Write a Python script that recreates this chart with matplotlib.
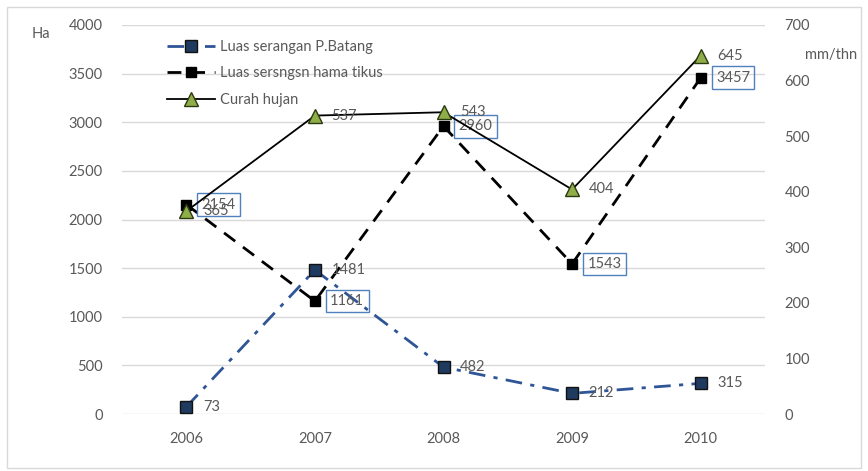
import matplotlib.pyplot as plt
from matplotlib.patches import Rectangle

years = ["2006", "2007", "2008", "2009", "2010"]
batang = [73, 1481, 482, 212, 315]
tikus = [2154, 1161, 2960, 1543, 3457]
hujan = [365, 537, 543, 404, 645]

plt.rcParams['font.family'] = ['Lato', 'DejaVu Sans']
text_col = '#595959'
fs = 10.5

fig = plt.figure(figsize=(8.68, 4.71), dpi=100)
W, H = 868, 471
ax = fig.add_axes([122 / W, 1 - 414 / H, (765 - 122) / W, (414 - 25) / H])
ax2 = ax.twinx()

x = list(range(len(years)))

ax.set_xlim(-0.5, 4.5)
ax.set_ylim(0, 4000)
ax2.set_ylim(0, 700)
ax.set_yticks(range(0, 4001, 500))
ax2.set_yticks(range(0, 701, 100))
ax.set_xticks(x)
ax.set_xticklabels(years)
ax.grid(axis='y', color='#D9D9D9', lw=1)
ax.set_axisbelow(True)
for a in (ax, ax2):
    for s in a.spines.values():
        s.set_visible(False)
    a.tick_params(length=0, labelsize=fs, colors=text_col)
ax.tick_params(axis='y', pad=14)
ax2.tick_params(axis='y', pad=14)
ax.tick_params(axis='x', pad=13)

l1, = ax.plot(x, batang, color='#2F5597', lw=2, dashes=[6, 3, 1.5, 3],
              marker='s', ms=8.5, mfc='#1F3A5F', mec='#111111', zorder=3,
              label='Luas serangan P.Batang')
l2, = ax.plot(x, tikus, color='black', lw=2, dashes=[5, 3.5],
              marker='s', ms=7, mfc='black', mec='black', zorder=3,
              label='Luas sersngsn hama tikus')
ax2.set_zorder(ax.get_zorder() + 1)
ax2.patch.set_visible(False)
l3, = ax2.plot(x, hujan, color='black', lw=1.3, marker='^', ms=10,
               mfc='#8FAE4A', mec='#2B3A10', mew=1, zorder=4,
               label='Curah hujan')

for xi, v in zip(x, batang):
    ax.annotate(str(v), (xi, v), xytext=(12, 0), textcoords='offset points',
                va='center', ha='left', fontsize=fs, color=text_col, zorder=5)
for xi, v in zip(x, tikus):
    ax.annotate(str(v), (xi, v), xytext=(11, 0), textcoords='offset points',
                va='center', ha='left', fontsize=fs, color=text_col, zorder=5,
                bbox=dict(boxstyle='square,pad=0.3', fc='none', ec='#4F81BD', lw=1))
for xi, v in zip(x, hujan):
    ax2.annotate(str(v), (xi, v), xytext=(12, 0), textcoords='offset points',
                 va='center', ha='left', fontsize=fs, color=text_col, zorder=5)

leg = ax.legend(handles=[l1, l2, l3], loc='upper left', bbox_to_anchor=(0.05, 0.995),
                frameon=False, fontsize=fs, handlelength=3.3, labelspacing=0.85,
                handletextpad=0.3, labelcolor=text_col)

fig.text(32 / W, 1 - 34 / H, 'Ha', fontsize=fs, color=text_col, va='center', ha='left')
fig.text(805 / W, 1 - 55 / H, 'mm/thn', fontsize=fs, color=text_col, va='center', ha='left')

fig.patches.append(Rectangle((7 / W, 3 / H), (W - 14) / W, (H - 10) / H,
                             transform=fig.transFigure, fill=False,
                             ec='#D9D9D9', lw=1))

fig.savefig('out.png', dpi=100)
